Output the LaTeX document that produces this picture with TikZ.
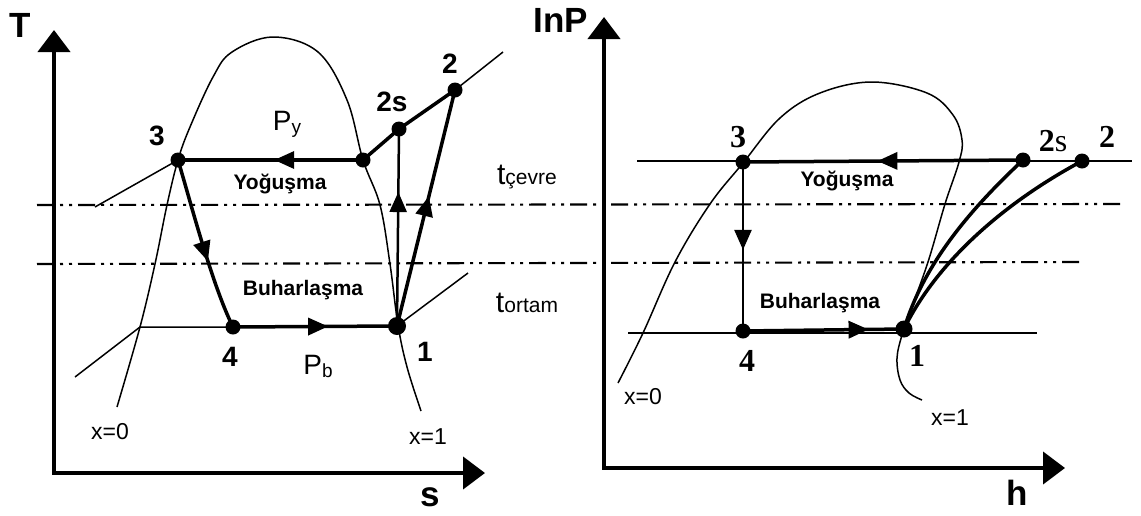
\documentclass[tikz,border=0pt]{standalone}
\usepackage{fontspec}
\setmainfont{Liberation Sans}
\newfontfamily\serifnum{Liberation Serif}
\usetikzlibrary{arrows.meta,decorations.markings}
\tikzset{
  thinl/.style={line width=1.5pt},
  medl/.style={line width=2.5pt},
  thickl/.style={line width=3.5pt},
  axisl/.style={line width=4.2pt, line join=miter, {Triangle[length=22pt,width=32pt]}-{Triangle[length=22pt,width=32pt]}},
  ptdot/.style={circle, fill=black, inner sep=0pt, minimum size=#1},
  ptdot/.default=15pt,
  midarrow/.style={postaction={decorate}, decoration={markings, mark=at position #1 with {\arrow{Triangle[length=20pt,width=17pt]}}}},
  dashdotl/.style={line width=2.1pt, dash pattern=on 17pt off 6pt on 3pt off 6pt on 3pt off 6pt},
  numL/.style={font=\fontsize{28}{28}\selectfont\bfseries},
  numR/.style={font=\fontsize{32}{32}\selectfont\serifnum\bfseries},
  axlab/.style={font=\fontsize{35}{35}\selectfont\bfseries},
  proc/.style={font=\fontsize{21}{21}\selectfont\bfseries},
  xlab/.style={font=\fontsize{23}{23}\selectfont},
  plab/.style={font=\fontsize{28}{28}\selectfont},
  tlab/.style={font=\fontsize{30}{30}\selectfont},
}
\begin{document}
\begin{tikzpicture}[x=1pt,y=-1pt]
\useasboundingbox (0,0) rectangle (1141,515);
% ---------------- left diagram (T-s) ----------------
\coordinate (Ltop) at (54,30);
\coordinate (Lorig) at (54,473);
\coordinate (Lright) at (485,473);
\draw[axisl] (Ltop) -- (Lorig) -- (Lright);
% dash-dot lines across both diagrams
\coordinate (DDa1) at (37,205);
\coordinate (DDa2) at (1120,204);
\coordinate (DDb1) at (37,264);
\coordinate (DDb2) at (1084,262);
\draw[dashdotl] (DDa1) -- (DDa2);
\draw[dashdotl] (DDb1) -- (DDb2);
% saturation dome
\draw[thinl] plot[smooth, tension=0.6] coordinates {(117,407) (140,327) (155,264) (167,205) (178,160) (190,127) (213,77) (232,52) (273,37) (318,52) (347,100) (363,160) (380,205) (390,264) (398,325) (407,367) (421,411)};
% points
\node[ptdot] (L3) at (178,160) {};
\node[ptdot] (Lsat) at (363,160) {};
\node[ptdot] (L2s) at (399,129) {};
\node[ptdot] (L2) at (455,90) {};
\node[ptdot=18pt] (L1) at (397,326) {};
\node[ptdot] (L4) at (233,327) {};
\coordinate (Liso3) at (95,207);
\coordinate (Lisoa) at (75,377);
\coordinate (Lisob) at (140,327);
\coordinate (Lend2) at (503,52);
\coordinate (Lend1) at (468,273);
\draw[thinl] (Liso3) -- (L3.center);
\draw[thinl] (Lisoa) -- (Lisob) -- (L4.center);
\draw[thickl, midarrow=0.48] (Lsat.center) -- (L3.center);
\draw[thickl, line join=round] (Lsat.center) -- (L2s.center) -- (L2.center);
\draw[thinl] (L2.center) -- (Lend2);
\draw[thickl, midarrow=0.58] (L4.center) -- (L1.center);
\draw[thinl] (L1.center) -- (Lend1);
\draw[medl, midarrow=0.68] (L1.center) -- (L2s.center);
\draw[thickl, midarrow=0.55] (L1.center) -- (L2.center);
\draw[thickl, midarrow=0.6] (L3.center) .. controls (190,200) and (212,285) .. (L4.center);
% labels
\node[axlab] (Tl) at (20,25) {T};
\node[axlab] (sl) at (430,497) {s};
\node[numL] (n3L) at (157,136) {3};
\node[numL] (n2sL) at (392,102) {2s};
\node[numL] (n2L) at (450,64) {2};
\node[numL] (n1L) at (425,352) {1};
\node[numL] (n4L) at (230,357) {4};
\node[plab] (Py) at (287,124) {P\raisebox{-3pt}{\fontsize{19}{19}\selectfont y}};
\node[plab] (Pb) at (318,366) {P\raisebox{-3pt}{\fontsize{19}{19}\selectfont b}};
\node[proc] (YoL) at (280,184) {Yoğuşma};
\node[proc] (BuL) at (303,290) {Buharlaşma};
\node[tlab] (tcev) at (527,177) {t{\fontsize{21}{21}\selectfont çevre}};
\node[tlab] (tort) at (527,303) {t{\fontsize{21}{21}\selectfont ortam}};
\node[xlab] (x0L) at (110,432) {x=0};
\node[xlab] (x1L) at (428,437) {x=1};
% ---------------- right diagram (lnP-h) ----------------
\coordinate (Rtop) at (604,17);
\coordinate (Rorig) at (604,468);
\coordinate (Rright) at (1065,468);
\draw[axisl] (Rtop) -- (Rorig) -- (Rright);
\draw[thinl] plot[smooth, tension=0.6] coordinates {(618,383) (643,333) (675,262) (710,204) (743,163) (780,118) (820,93) (872,82) (927,93) (953,115) (962,140) (959,162) (945,204) (928,262) (910,312) (902,335) (897,358) (900,380) (909,393) (922,400)};
\node[ptdot] (R3) at (743,162) {};
\node[ptdot] (R2s) at (1023,160) {};
\node[ptdot] (R2) at (1082,161) {};
\node[ptdot] (R4) at (743,331) {};
\node[ptdot=17pt] (R1) at (904,329) {};
\coordinate (Risoa) at (637,161);
\coordinate (Risob) at (1132,161);
\coordinate (Rlowa) at (628,333);
\coordinate (Rlowb) at (1037,333);
\draw[medl] (Risoa) -- (Risob);
\draw[thickl, midarrow=0.52] (R2s.center) -- (R3.center);
\draw[thinl] (Rlowa) -- (Rlowb);
\draw[medl, midarrow=0.52] (R3.center) -- (R4.center);
\draw[thickl, midarrow=0.78] (R4.center) -- (R1.center);
\draw[thickl] (R1.center) .. controls (925,260) and (975,205) .. (R2s.center);
\draw[thickl] (R1.center) .. controls (935,265) and (1000,205) .. (R2.center);
\node[axlab] (lnP) at (561,20) {InP};
\node[axlab] (hl) at (1017,493) {h};
\node[numR] (n3R) at (738,137) {3};
\node[numR] (n2sR) at (1053,141) {2{\mdseries s}};
\node[numR] (n2R) at (1107,137) {2};
\node[numR] (n1R) at (917,356) {1};
\node[numR] (n4R) at (747,361) {4};
\node[proc] (YoR) at (847,181) {Yoğuşma};
\node[proc] (BuR) at (820,303) {Buharlaşma};
\node[xlab] (x0R) at (643,397) {x=0};
\node[xlab] (x1R) at (950,418) {x=1};
\end{tikzpicture}
\end{document}
